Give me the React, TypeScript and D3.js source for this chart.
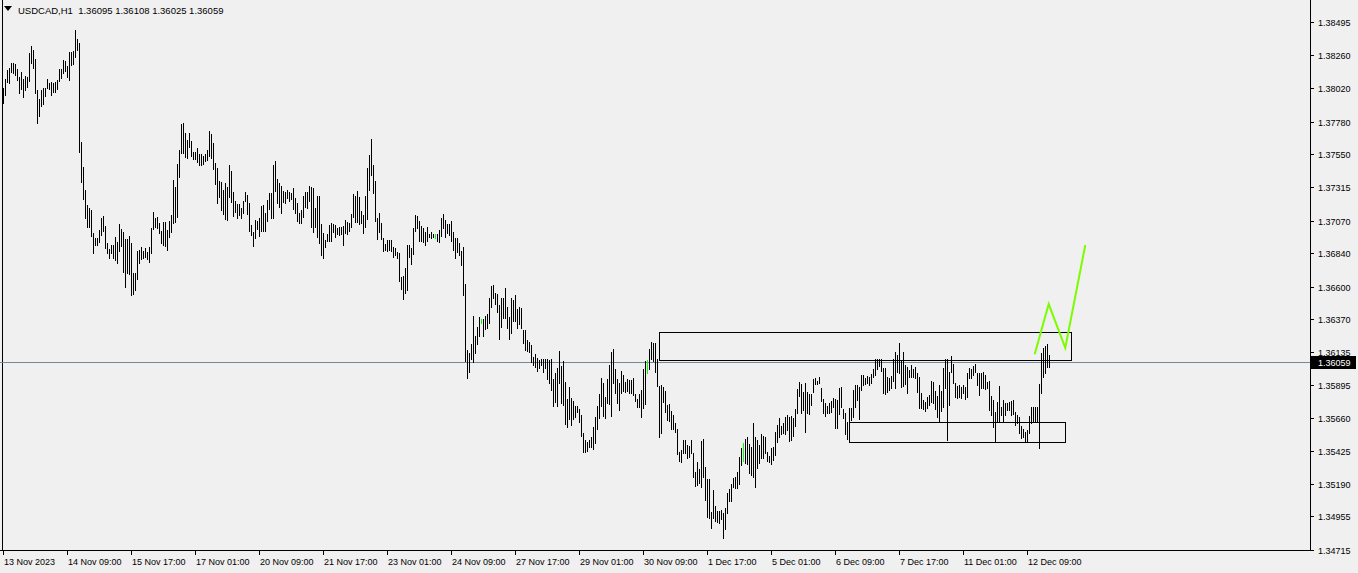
import React from "react";
import * as d3 from "d3";

const symbolName = "USDCAD,H1";
const lastOHLC = [1.36095, 1.36108, 1.36025, 1.36059];
const bidPrice = 1.36059;

const highs = [
1.38023,1.38087,1.38152,1.38166,1.38202,1.38202,1.38195,1.38159,1.38102,1.38137,
1.38087,1.38109,1.38102,1.38274,1.38324,1.38295,1.38231,1.38009,1.37944,1.38009,
1.38023,1.38023,1.38087,1.38059,1.38066,1.38059,1.38066,1.38080,1.38159,1.38159,
1.38223,1.38216,1.38180,1.38281,1.38281,1.38288,1.38438,1.38374,1.38345,1.37636,
1.37457,1.37293,1.37185,1.37164,1.37149,1.36985,1.36949,1.36949,1.37006,1.37092,
1.37106,1.37035,1.36913,1.36870,1.36899,1.36899,1.36956,1.36920,1.37049,1.37013,
1.36992,1.36942,1.36942,1.36963,1.36913,1.36698,1.36698,1.36856,1.36863,1.36884,
1.36856,1.36877,1.36849,1.36884,1.37020,1.37135,1.37092,1.37099,1.37056,1.36999,
1.37063,1.37063,1.37006,1.37071,1.37114,1.37364,1.37314,1.37479,1.37579,1.37765,
1.37772,1.37701,1.37651,1.37701,1.37643,1.37565,1.37565,1.37593,1.37550,1.37550,
1.37536,1.37550,1.37579,1.37715,1.37694,1.37629,1.37486,1.37450,1.37357,1.37350,
1.37293,1.37343,1.37314,1.37472,1.37429,1.37278,1.37214,1.37192,1.37192,1.37164,
1.37214,1.37278,1.37257,1.37199,1.37042,1.36992,1.37078,1.37071,1.37092,1.37178,
1.37185,1.37128,1.37221,1.37271,1.37271,1.37472,1.37500,1.37371,1.37343,1.37321,
1.37285,1.37278,1.37293,1.37278,1.37271,1.37307,1.37235,1.37199,1.37128,1.37149,
1.37250,1.37278,1.37278,1.37321,1.37314,1.37307,1.37164,1.37250,1.37250,1.37049,
1.36985,1.36935,1.36978,1.37042,1.37056,1.37049,1.37042,1.37020,1.37028,1.37028,
1.37035,1.37078,1.37063,1.37056,1.37121,1.37264,1.37250,1.37285,1.37242,1.37142,
1.37114,1.37250,1.37450,1.37543,1.37658,1.37472,1.37357,1.37092,1.37128,1.37056,
1.36949,1.36906,1.36935,1.36935,1.36935,1.36884,1.36877,1.36849,1.36841,1.36670,
1.36677,1.36734,1.36899,1.36899,1.36877,1.37020,1.37114,1.37106,1.37071,1.37035,
1.37020,1.36992,1.37028,1.36978,1.36992,1.36978,1.36978,1.36978,1.37006,1.37092,
1.37121,1.37078,1.37049,1.37049,1.37071,1.36992,1.36949,1.36949,1.36913,1.36856,
1.36884,1.36620,1.36147,1.36125,1.36190,1.36390,1.36247,1.36312,1.36383,1.36369,
1.36369,1.36390,1.36405,1.36519,1.36605,1.36612,1.36555,1.36548,1.36469,1.36519,
1.36519,1.36591,1.36455,1.36383,1.36519,1.36505,1.36541,1.36441,1.36455,1.36448,
1.36290,1.36290,1.36219,1.36204,1.36183,1.36097,1.36118,1.36090,1.36075,1.36083,
1.36083,1.36083,1.36083,1.36075,1.36083,1.35939,1.35982,1.36018,1.36140,1.36032,
1.36068,1.35918,1.35796,1.35882,1.35803,1.35782,1.35746,1.35746,1.35725,1.35682,
1.35553,1.35503,1.35488,1.35503,1.35524,1.35596,1.35667,1.35746,1.35832,1.35946,
1.35911,1.35810,1.35939,1.36040,1.36133,1.36154,1.36011,1.35939,1.35911,1.35997,
1.35968,1.35918,1.35939,1.35932,1.35932,1.35946,1.35832,1.35796,1.35832,1.35861,
1.36011,1.36068,1.36075,1.36154,1.36204,1.36197,1.36197,1.36083,1.35889,1.35896,
1.35882,1.35853,1.35753,1.35760,1.35710,1.35682,1.35624,1.35581,1.35417,1.35431,
1.35503,1.35503,1.35467,1.35460,1.35503,1.35409,1.35273,1.35345,1.35295,1.35495,
1.35510,1.35309,1.35223,1.35223,1.34987,1.35145,1.35030,1.34994,1.34994,1.35001,
1.34980,1.35016,1.35123,1.35152,1.35188,1.35230,1.35238,1.35273,1.35381,1.35445,
1.35481,1.35510,1.35524,1.35474,1.35452,1.35624,1.35524,1.35503,1.35467,1.35546,
1.35531,1.35524,1.35417,1.35388,1.35445,1.35452,1.35560,1.35610,1.35660,1.35603,
1.35624,1.35667,1.35682,1.35667,1.35674,1.35660,1.35725,1.35868,1.35918,1.35904,
1.35846,1.35911,1.35846,1.35832,1.35832,1.35939,1.35946,1.35925,1.35954,1.35875,
1.35796,1.35767,1.35746,1.35767,1.35782,1.35803,1.35796,1.35789,1.35875,1.35882,
1.35725,1.35696,1.35631,1.35732,1.35732,1.35861,1.35896,1.35896,1.35882,1.35968,
1.35968,1.35946,1.35961,1.35954,1.35975,1.36011,1.36083,1.36083,1.36083,1.36083,
1.36018,1.36018,1.35954,1.35946,1.35961,1.36083,1.36133,1.36111,1.36197,1.36075,
1.36133,1.36040,1.36025,1.36004,1.36040,1.36011,1.36025,1.35982,1.35954,1.35839,
1.35789,1.35775,1.35810,1.35825,1.35925,1.35918,1.35853,1.35818,1.35896,1.35853,
1.36018,1.36083,1.36083,1.35989,1.36104,1.36047,1.35911,1.35889,1.35896,1.35882,
1.35896,1.35882,1.35982,1.36018,1.36011,1.36032,1.36047,1.35982,1.35982,1.35982,
1.35989,1.35968,1.35918,1.35925,1.35818,1.35789,1.35703,1.35775,1.35889,1.35739,
1.35789,1.35767,1.35767,1.35775,1.35782,1.35789,1.35703,1.35682,1.35667,1.35603,
1.35581,1.35560,1.35574,1.35674,1.35739,1.35739,1.35739,1.35739,1.35904,1.36125,
1.36161,1.36176,1.36190,1.36108
];

const lows = [
1.37915,1.37973,1.38066,1.38059,1.38137,1.38130,1.38116,1.38080,1.37987,1.38016,
1.37958,1.38009,1.38030,1.38073,1.38202,1.38166,1.37987,1.37772,1.37822,1.37894,
1.37908,1.37966,1.38023,1.38016,1.37973,1.37994,1.37994,1.38016,1.38073,1.38095,
1.38130,1.38145,1.38102,1.38080,1.38188,1.38195,1.38245,1.38295,1.37565,1.37350,
1.37228,1.37092,1.37028,1.37028,1.36963,1.36841,1.36899,1.36899,1.36920,1.36970,
1.36999,1.36877,1.36841,1.36806,1.36841,1.36806,1.36791,1.36770,1.36856,1.36892,
1.36705,1.36598,1.36698,1.36691,1.36541,1.36548,1.36577,1.36655,1.36770,1.36799,
1.36806,1.36813,1.36799,1.36777,1.36841,1.37013,1.37028,1.37020,1.36985,1.36913,
1.36899,1.36892,1.36863,1.36956,1.36992,1.37056,1.37063,1.37099,1.37386,1.37557,
1.37557,1.37529,1.37522,1.37600,1.37536,1.37515,1.37515,1.37493,1.37472,1.37472,
1.37479,1.37500,1.37507,1.37536,1.37522,1.37443,1.37336,1.37199,1.37242,1.37149,
1.37121,1.37085,1.37078,1.37242,1.37207,1.37106,1.37135,1.37092,1.37114,1.37092,
1.37128,1.37214,1.37121,1.36999,1.36970,1.36892,1.36949,1.37013,1.36963,1.36999,
1.36999,1.36999,1.37071,1.37157,1.37092,1.37092,1.37285,1.37199,1.37171,1.37128,
1.37207,1.37199,1.37235,1.37214,1.37228,1.37157,1.37128,1.37071,1.37056,1.37056,
1.37099,1.37171,1.37164,1.37214,1.37028,1.36992,1.37028,1.36956,1.36913,1.36827,
1.36806,1.36884,1.36927,1.36927,1.36927,1.36992,1.36956,1.36978,1.36970,1.36978,
1.36899,1.36985,1.36978,1.36999,1.37028,1.37099,1.37063,1.37063,1.37049,1.37056,
1.36985,1.37028,1.37085,1.37293,1.37400,1.37271,1.37071,1.36942,1.36992,1.36942,
1.36856,1.36863,1.36856,1.36863,1.36856,1.36813,1.36827,1.36806,1.36641,1.36584,
1.36512,1.36555,1.36577,1.36813,1.36763,1.36834,1.36999,1.37020,1.36927,1.36927,
1.36920,1.36899,1.36927,1.36956,1.36949,1.36956,1.36949,1.36927,1.36920,1.36963,
1.37020,1.36956,1.36985,1.36970,1.36927,1.36863,1.36806,1.36849,1.36827,1.36756,
1.36541,1.36068,1.35946,1.35989,1.36083,1.36061,1.36125,1.36190,1.36247,1.36340,
1.36247,1.36297,1.36304,1.36340,1.36455,1.36519,1.36476,1.36419,1.36226,1.36312,
1.36376,1.36376,1.36304,1.36226,1.36269,1.36355,1.36355,1.36304,1.36333,1.36304,
1.36197,1.36147,1.36140,1.36133,1.36061,1.36040,1.36025,1.35997,1.36018,1.36040,
1.35989,1.36018,1.35939,1.35911,1.35861,1.35746,1.35775,1.35746,1.35911,1.35767,
1.35753,1.35617,1.35596,1.35653,1.35610,1.35653,1.35667,1.35703,1.35631,1.35531,
1.35417,1.35417,1.35424,1.35452,1.35452,1.35438,1.35481,1.35581,1.35660,1.35746,
1.35674,1.35660,1.35767,1.35760,1.35674,1.35911,1.35839,1.35767,1.35717,1.35839,
1.35853,1.35846,1.35853,1.35839,1.35839,1.35825,1.35782,1.35739,1.35739,1.35667,
1.35732,1.35760,1.35982,1.36011,1.36083,1.36068,1.35989,1.35889,1.35524,1.35553,
1.35775,1.35703,1.35646,1.35639,1.35581,1.35581,1.35560,1.35402,1.35352,1.35345,
1.35409,1.35409,1.35374,1.35381,1.35409,1.35238,1.35173,1.35180,1.35195,1.35166,
1.35238,1.35073,1.34951,1.34944,1.34872,1.34944,1.34923,1.34915,1.34908,1.34937,
1.34801,1.34865,1.34980,1.35066,1.35066,1.35166,1.35159,1.35159,1.35188,1.35324,
1.35352,1.35338,1.35331,1.35266,1.35252,1.35238,1.35166,1.35302,1.35338,1.35374,
1.35374,1.35409,1.35352,1.35345,1.35331,1.35359,1.35395,1.35488,1.35524,1.35546,
1.35553,1.35546,1.35574,1.35495,1.35503,1.35531,1.35603,1.35696,1.35818,1.35696,
1.35717,1.35560,1.35696,1.35689,1.35753,1.35846,1.35904,1.35904,1.35911,1.35782,
1.35696,1.35674,1.35696,1.35696,1.35703,1.35739,1.35588,1.35588,1.35689,1.35739,
1.35660,1.35546,1.35510,1.35510,1.35646,1.35667,1.35739,1.35789,1.35653,1.35861,
1.35896,1.35904,1.35911,1.35896,1.35911,1.35954,1.35968,1.36011,1.36032,1.35997,
1.35839,1.35832,1.35846,1.35861,1.35875,1.35925,1.35875,1.35989,1.35982,1.35882,
1.35889,1.35904,1.35839,1.35954,1.35954,1.35954,1.35946,1.35846,1.35732,1.35732,
1.35725,1.35710,1.35732,1.35753,1.35775,1.35767,1.35725,1.35667,1.35639,1.35710,
1.35739,1.35875,1.35503,1.35753,1.35989,1.35911,1.35810,1.35803,1.35810,1.35803,
1.35839,1.35796,1.35810,1.35946,1.35946,1.35968,1.35989,1.35896,1.35825,1.35875,
1.35875,1.35868,1.35875,1.35717,1.35682,1.35596,1.35495,1.35631,1.35631,1.35682,
1.35631,1.35682,1.35717,1.35717,1.35682,1.35689,1.35610,1.35624,1.35553,1.35517,
1.35524,1.35488,1.35488,1.35553,1.35624,1.35631,1.35631,1.35631,1.35445,1.35839,
1.35954,1.35982,1.36025,1.36025
];

const dojiBars = [216, 239, 322, 370];

const timeLabels = [
  "13 Nov 2023", "14 Nov 09:00", "15 Nov 17:00", "17 Nov 01:00", "20 Nov 09:00",
  "21 Nov 17:00", "23 Nov 01:00", "24 Nov 09:00", "27 Nov 17:00", "29 Nov 01:00",
  "30 Nov 09:00", "1 Dec 17:00", "5 Dec 01:00", "6 Dec 09:00", "7 Dec 17:00",
  "11 Dec 01:00", "12 Dec 09:00"
];
const timeLabelBars = [0, 32, 64, 96, 128, 160, 192, 224, 256, 288, 320, 352, 384, 416, 448, 480, 512];

const priceTicks = [
  1.38495, 1.38260, 1.38020, 1.37780, 1.37550, 1.37315, 1.37070, 1.36840, 1.36600,
  1.36370, 1.36135, 1.35895, 1.35660, 1.35425, 1.35190, 1.34955, 1.34715
];

// rectangles drawn on the chart: [fromBar, toBar, topPrice, bottomPrice]
const boxFrom = [328, 423];
const boxTo = [534, 531];
const boxTop = [1.36276, 1.35629];
const boxBottom = [1.36072, 1.35486];

// projected zigzag
const zigzagBars = [515.85, 522.85, 531.15, 541.15];
const zigzagPrices = [1.36116, 1.36476, 1.36163, 1.36899];

const W = 1358;
const H = 573;
const plotRight = 1310;
const plotBottom = 550;
const FONT = "'Liberation Sans', Arial, sans-serif";

export default function App() {
  const x = d3.scaleLinear().domain([0, 523]).range([3, 1049]);
  const y = d3.scaleLinear().domain([1.34715, 1.38653]).range([plotBottom, 0]);
  const fmt = d3.format(".5f");
  const doji = new Set(dojiBars);

  const zigzag = d3
    .line<number>()
    .x((_, i) => x(zigzagBars[i]))
    .y((p) => y(p))(zigzagPrices);

  const bidY = Math.round(y(bidPrice));

  return (
    <svg
      width={W}
      height={H}
      style={{ position: "absolute", left: 0, top: 0, display: "block", background: "#f0f0f0" }}
    >
      <rect x={0} y={0} width={W} height={H} fill="#f0f0f0" />
      {/* left frame */}
      <line x1={2.5} x2={2.5} y1={0} y2={plotBottom} stroke="#000" strokeWidth={1} shapeRendering="crispEdges" />
      {/* bid line */}
      <line x1={0} x2={plotRight} y1={bidY + 0.5} y2={bidY + 0.5} stroke="#778899" strokeWidth={1} />
      {/* bars */}
      <g shapeRendering="crispEdges">
        {highs.map((h, i) => {
          const yt = Math.round(y(h));
          const yb = Math.round(y(lows[i]));
          return (
            <rect
              key={i}
              x={Math.round(x(i))}
              y={yt}
              width={1}
              height={Math.max(1, yb - yt + 1)}
              fill={doji.has(i) ? "#00ff00" : "#000"}
            />
          );
        })}
      </g>
      {/* boxes */}
      <g shapeRendering="crispEdges">
        {boxFrom.map((f, i) => {
          const x0 = Math.round(x(f)) + 0.5;
          const x1 = Math.round(x(boxTo[i])) + 0.5;
          const y0 = Math.round(y(boxTop[i])) + 0.5;
          const y1 = Math.round(y(boxBottom[i])) + 0.5;
          return <rect key={i} x={x0} y={y0} width={x1 - x0} height={y1 - y0} fill="none" stroke="#000" strokeWidth={1} />;
        })}
      </g>
      {/* zigzag */}
      <path d={zigzag || ""} fill="none" stroke="#7cfc00" strokeWidth={2} />
      {/* axes */}
      <g shapeRendering="crispEdges">
        <line x1={plotRight + 0.5} x2={plotRight + 0.5} y1={0} y2={plotBottom + 1} stroke="#000" />
        <line x1={0} x2={plotRight + 1} y1={plotBottom + 0.5} y2={plotBottom + 0.5} stroke="#000" />
        {priceTicks.map((p, i) => {
          const ty = Math.round(y(p)) + 0.5;
          return <line key={i} x1={plotRight} x2={plotRight + 4} y1={ty} y2={ty} stroke="#000" />;
        })}
        {timeLabelBars.map((b, i) => {
          const tx = Math.round(x(b)) + 0.5;
          return <line key={i} x1={tx} x2={tx} y1={plotBottom} y2={plotBottom + 5} stroke="#000" />;
        })}
      </g>
      {priceTicks.map((p, i) => (
        <text key={i} x={1318} y={Math.round(y(p)) + 3.5} fontFamily={FONT} fontSize={9} fill="#000">
          {fmt(p)}
        </text>
      ))}
      {timeLabels.map((t, i) => (
        <text key={i} x={Math.round(x(timeLabelBars[i])) + 1} y={565} fontFamily={FONT} fontSize={9} fill="#000">
          {t}
        </text>
      ))}
      {/* bid price tag */}
      <rect x={1311} y={bidY - 6} width={45} height={13} fill="#000" />
      <text x={1318} y={bidY + 3.5} fontFamily={FONT} fontSize={9} fill="#fff">
        {fmt(bidPrice)}
      </text>
      {/* header */}
      <path d="M4,6 L12,6 L8,11 Z" fill="#000" />
      <text x={18} y={14} fontFamily={FONT} fontSize={9.5} fill="#000" style={{ whiteSpace: "pre" }}>
        {`${symbolName}  ${lastOHLC.map((v) => fmt(v)).join(" ")}`}
      </text>
    </svg>
  );
}
